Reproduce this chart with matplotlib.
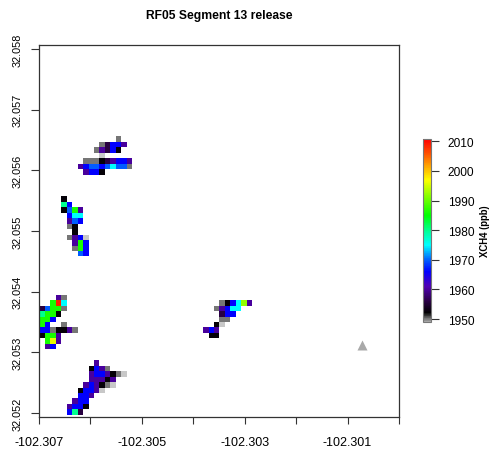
import numpy as np
import matplotlib
matplotlib.use('Agg')
import matplotlib.pyplot as plt
from matplotlib.colors import LinearSegmentedColormap, Normalize

plt.rcParams['font.family'] = 'Liberation Sans'

# retrieval grid (about 10 m cells)
lon0, dlon = -102.30699, 0.000106
lat0, dlat = 32.05197, 0.00009
ncol, nrow = 66, 68

# XCH4 (ppb) for each colour code
code_ppb = {'l': 1948.0, 'g': 1950.0, 'k': 1952.5, 'p': 1956.0, 'i': 1960.0,
            'b': 1966.0, 'd': 1970.0, 'c': 1975.0, 'e': 1980.0, 'G': 1986.0,
            'Y': 1992.0, 'y': 1996.0, 'r': 2009.0}

# plumes: first column, top row, then rows of codes (top to bottom)
plume_top = (7, 50, [
    '.......g',
    '....gpbbi',
    '...gipbk',
    '....l',
    '.gggkpibbi',
    'ibddbdcddg',
    '.ibbk',
])
plume_left = (4, 39, [
    'k',
    'eb',
    'kdGi',
    '.bcc',
    '.idb',
    '.gk',
    '..k',
    '.gibl',
    '..iGb',
    '..gGb',
    '...db',
])
plume_edge = (0, 21, [
    '...ig',
    '..Grc',
    'pdGGg',
    'eGGk',
    'GGb',
    'Gb..g',
    'bbgkkig',
    'kGGi',
    '.Gyi',
    '.ib',
])
plume_bottom = (5, 9, [
    '.....i',
    '....kbig',
    '....ibbikgl',
    '....iiiki',
    '...ibikgl',
    '..kbbil',
    '..bbi',
    '.ibb',
    'ibbk',
    'bep',
])
plume_right = (30, 20, [
    '...gkbcYi',
    '..gibcc',
    '...pbb',
    '...gg',
    '..kl',
    'ibi',
    '.kk',
])

# release point
src_lon = [-102.30071]
src_lat = [32.05312]

xticks = np.round(np.arange(-102.307, -102.2995, 0.001), 3)
yticks = np.round(np.arange(32.052, 32.0585, 0.001), 3)
cbar_ticks = [1950, 1960, 1970, 1980, 1990, 2000, 2010]

# build the gridded field
z = np.full((nrow, ncol), np.nan)
for col0, top, rows in [plume_top, plume_left, plume_edge, plume_bottom, plume_right]:
    for k, line in enumerate(rows):
        for m, ch in enumerate(line):
            if ch != '.':
                z[top - k, col0 + m] = code_ppb[ch]
lon_edges = lon0 + dlon * np.arange(ncol + 1)
lat_edges = lat0 + dlat * np.arange(nrow + 1)

anchors = [(1949.0, '#a8a8a8'), (1950.5, '#5a5a5a'), (1952.0, '#000000'),
           (1956.0, '#2a0045'), (1961.0, '#5000b4'), (1966.0, '#0000ff'),
           (1970.0, '#0060ff'), (1975.0, '#00ffff'), (1980.0, '#00ff90'),
           (1985.0, '#00ff00'), (1992.0, '#90ff00'), (1997.0, '#ffff00'),
           (2002.0, '#ffa000'), (2006.0, '#ff5000'), (2010.8, '#ff0000')]
vmin, vmax = 1949.0, 2010.8
cmap = LinearSegmentedColormap.from_list(
    'xch4', [((v - vmin) / (vmax - vmin), c) for v, c in anchors])
cmap.set_under('#c8c8c8')
cmap.set_bad((0, 0, 0, 0))
norm = Normalize(vmin=vmin, vmax=vmax)

fig = plt.figure(figsize=(4.91, 4.56), dpi=100)
ax = fig.add_axes([39 / 491, 1 - 418 / 456, 360 / 491, 372.3 / 456])
mesh = ax.pcolormesh(lon_edges, lat_edges, np.ma.masked_invalid(z),
                     cmap=cmap, norm=norm, shading='flat')
ax.plot(src_lon, src_lat, '^', color='#a9a9a9', markersize=6.5, mec='none')

ax.set_xlim(-102.307, -102.300)
ax.set_ylim(32.051934, 32.058071)
ax.set_xticks(xticks)
ax.set_xticklabels(['%.3f' % t if i % 2 == 0 else '' for i, t in enumerate(xticks)],
                   fontsize=9)
ax.set_yticks(yticks)
ax.set_yticklabels(['%.3f' % t for t in yticks], fontsize=7.8,
                   rotation=90, va='center')
ax.tick_params(axis='x', length=5, width=0.8, color='#333333', pad=9)
ax.tick_params(axis='y', length=6, width=0.8, color='#333333', pad=6)
for s in ax.spines.values():
    s.set_color('#333333')
    s.set_linewidth(0.9)
ax.set_title('RF05 Segment 13 release', fontsize=8.7, fontweight='bold', pad=19)

cax = fig.add_axes([423 / 491, 1 - 323 / 456, 8 / 491, 183 / 456])
cb = fig.colorbar(mesh, cax=cax, ticks=cbar_ticks)
cb.outline.set_edgecolor('#777777')
cb.outline.set_linewidth(0.8)
cax.tick_params(length=6, width=0.8, color='#333333', labelsize=8.6, pad=6)
cb.set_label('XCH4 (ppb)', fontsize=6.9, fontweight='bold', labelpad=4)

fig.savefig('out.png', dpi=100)
